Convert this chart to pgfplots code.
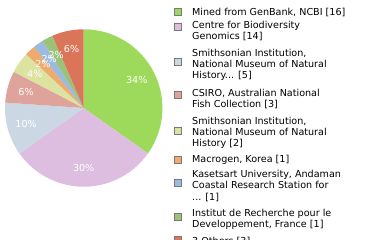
\documentclass[border=0pt]{standalone}
\usepackage{pgfplots}
\pgfplotsset{compat=1.18}
\usepackage{pgfplotstable}
\usepackage{fontspec}
\setmainfont{DejaVu Sans}
\definecolor{c0}{RGB}{157,217,90}
\definecolor{c1}{RGB}{221,190,224}
\definecolor{c2}{RGB}{203,216,228}
\definecolor{c3}{RGB}{222,164,155}
\definecolor{c4}{RGB}{220,226,160}
\definecolor{c5}{RGB}{239,170,110}
\definecolor{c6}{RGB}{155,186,224}
\definecolor{c7}{RGB}{155,195,120}
\definecolor{c8}{RGB}{219,117,90}
\pgfplotstableread{
value label
16 34
14 30
5 10
3 6
2 4
1 2
1 2
1 2
3 6
}\piedata
\newcommand\lfont{\fontsize{9.6bp}{11bp}\selectfont}
\newcommand\pfont{\fontsize{9.6bp}{11bp}\selectfont}
\begin{document}
\begin{tikzpicture}[x=1bp,y=1bp]
\useasboundingbox (0,0) rectangle (380,240);
\def\total{46}
\begin{axis}[hide axis, scale only axis, width=157.4bp, height=157.4bp,
  xmin=-1, xmax=1, ymin=-1, ymax=1, at={(83.7bp,132bp)}, anchor=center, clip=false]
\def\cum{0}
\pgfplotsforeachungrouped \i in {0,...,8}{%
  \pgfplotstablegetelem{\i}{value}\of\piedata
  \pgfmathsetmacro\sa{90-360/\total*\cum}%
  \pgfmathsetmacro\newcum{\cum+\pgfplotsretval}%
  \pgfmathsetmacro\sb{90-360/\total*\newcum}%
  \edef\temp{\noexpand\addplot[fill=c\i, draw=none, domain=\sb:\sa, samples=60] ({cos(x)},{sin(x)}) -- (axis cs:0,0) -- cycle;}%
  \temp
  \let\cum\newcum
}
\def\cum{0}
\pgfplotsforeachungrouped \i in {0,...,8}{%
  \pgfplotstablegetelem{\i}{value}\of\piedata
  \pgfmathsetmacro\sa{90-360/\total*\cum}%
  \pgfmathsetmacro\newcum{\cum+\pgfplotsretval}%
  \pgfmathsetmacro\sb{90-360/\total*\newcum}%
  \pgfmathsetmacro\sm{(\sa+\sb)/2}%
  \pgfmathsetmacro\lx{0.76*cos(\sm)}%
  \pgfmathsetmacro\ly{0.76*sin(\sm)}%
  \pgfplotstablegetelem{\i}{label}\of\piedata
  \edef\temp{\noexpand\node[text=white, inner sep=0pt, font=\noexpand\pfont] at (axis cs:\lx,\ly) {\pgfplotsretval\noexpand\%};}%
  \temp
  \let\cum\newcum
}
\end{axis}
% legend
\tikzset{sq/.style={draw=gray!95!black, line width=1bp, minimum size=7bp, inner sep=0pt},
         lt/.style={anchor=base west, inner sep=0pt, font=\lfont}}
\node[sq, fill=c0] at (178,228.3) {};
\node[sq, fill=c1] at (178,213) {};
\node[sq, fill=c2] at (178,178.3) {};
\node[sq, fill=c3] at (178,145) {};
\node[sq, fill=c4] at (178,109.3) {};
\node[sq, fill=c5] at (178,80) {};
\node[sq, fill=c6] at (178,56.7) {};
\node[sq, fill=c7] at (178,22.7) {};
\node[sq, fill=c8] at (178,0) {};
\node[lt] at (192,224.7) {Mined from GenBank, NCBI [16]};
\node[lt] at (192,211.7) {Centre for Biodiversity};
\node[lt] at (192,200.4) {Genomics [14]};
\node[lt] at (192,183.3) {Smithsonian Institution,};
\node[lt] at (192,172.5) {National Museum of Natural};
\node[lt] at (192,161.7) {History... [5]};
\node[lt] at (192,143.3) {CSIRO, Australian National};
\node[lt] at (192,132.5) {Fish Collection [3]};
\node[lt] at (192,115.7) {Smithsonian Institution,};
\node[lt] at (192,104.8) {National Museum of Natural};
\node[lt] at (192,93.8) {History [2]};
\node[lt] at (192,77.3) {Macrogen, Korea [1]};
\node[lt] at (192,62.5) {Kasetsart University, Andaman};
\node[lt] at (192,51.2) {Coastal Research Station for};
\node[lt] at (192,40) {... [1]};
\node[lt] at (192,24) {Institut de Recherche pour le};
\node[lt] at (192,12.7) {Developpement, France [1]};
\node[lt] at (192,-4) {3 Others [3]};
\end{tikzpicture}
\end{document}
